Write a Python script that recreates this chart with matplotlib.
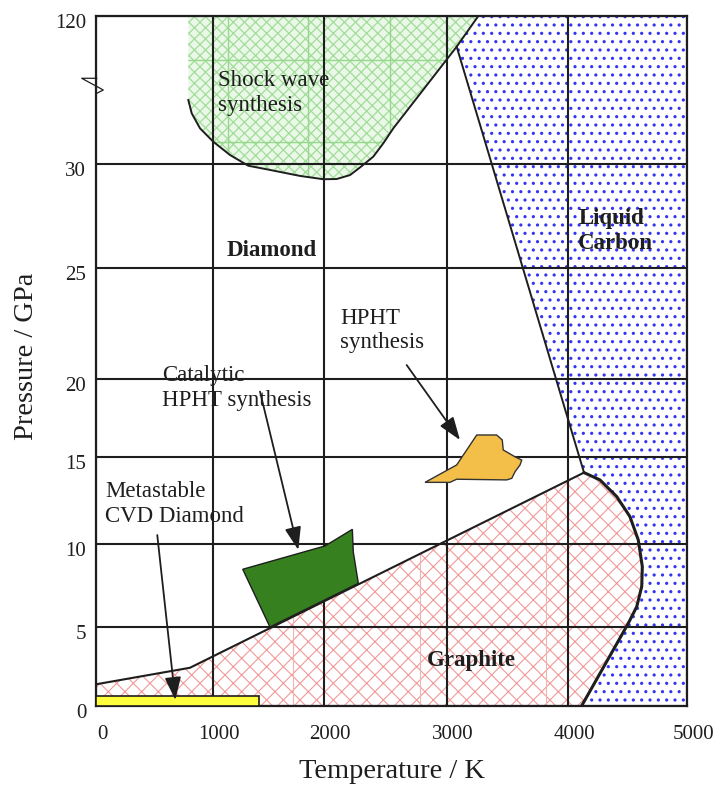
import numpy as np
import matplotlib
matplotlib.use("Agg")
import matplotlib.pyplot as plt
from matplotlib.transforms import ScaledTranslation

plt.rcParams['font.family'] = ['Liberation Serif', 'DejaVu Serif']

# ---- axes: tick values and their (hand-drawn, uneven) spacing ----
t_ticks = [0, 1000, 2000, 3000, 4000, 5000]
t_labels = ["0", "1000", "2000", "3000", "4000", "5000"]
p_ticks = [0, 5, 10, 15, 20, 25, 30, 120]
p_labels = ["0", "5", "10", "15", "20", "25", "30", "120"]
t_spacing = np.array([0, 116.7, 228.3, 350.7, 472.3, 591.3]) / 591.3
p_spacing = np.array([0, 78.7, 161.4, 248.4, 326.4, 437.7, 541.4, 689.7]) / 689.7

# ---- phase boundaries (T in K, P in GPa) ----
# graphite / diamond line
gd_T = [0, 805, 4132]
gd_P = [1.36, 2.41, 14.12]
# graphite / liquid curve, from the triple point down to zero pressure
gl_T = [4132, 4266, 4407, 4518, 4588, 4622, 4617, 4575, 4504, 4113]
gl_P = [14.12, 13.70, 12.74, 11.59, 10.25, 8.65, 7.44, 6.23, 5.22, 0.0]
# diamond / liquid line (top edge down to the triple point)
dl_T = [3260, 3082, 4132]
dl_P = [120, 101.4, 14.12]

# shock wave synthesis region
sw_T = [791, 791, 820, 891, 1005, 1155, 1319, 1484, 1782, 1991, 2101, 2210,
        2292, 2400, 2482, 2564, 3082, 3260]
sw_P = [120, 69.0, 60.95, 51.85, 43.72, 35.64, 29.93, 29.76, 29.44, 29.28,
        29.29, 29.48, 29.85, 34.61, 42.74, 51.85, 101.37, 120]

# HPHT synthesis window
hpht_T = [2823, 3082, 3247, 3411, 3457, 3465, 3562, 3617, 3603, 3562, 3535,
          3493, 3082, 3027]
hpht_P = [13.56, 14.56, 16.43, 16.43, 16.11, 15.47, 15.03, 14.84, 14.56,
          14.17, 13.79, 13.70, 13.74, 13.56]

# catalytic HPHT synthesis window
cat_T = [1269, 2006, 2229, 2237, 2278, 1513]
cat_P = [8.49, 9.90, 10.86, 9.53, 7.64, 5.0]

# metastable CVD diamond window
cvd_T = [0, 1418]
cvd_P = [0, 0.62]

T_MAX, P_MAX = 5000, 120

fig = plt.figure(figsize=(7.21, 7.87), dpi=100)
ax = fig.add_axes([96 / 721, 81.3 / 787, 591.3 / 721, 689.7 / 787])

ax.set_xscale('function', functions=(lambda v: np.interp(v, t_ticks, t_spacing),
                                     lambda u: np.interp(u, t_spacing, t_ticks)))
ax.set_yscale('function', functions=(lambda v: np.interp(v, p_ticks, p_spacing),
                                     lambda u: np.interp(u, p_spacing, p_ticks)))
ax.set_xlim(0, T_MAX)
ax.set_ylim(0, P_MAX)

ink = '#1e1e1e'

# ---- phase areas ----
graphite_T = gd_T + gl_T[1:] + [0]
graphite_P = gd_P + gl_P[1:] + [0]
g_poly = ax.fill(graphite_T, graphite_P, facecolor='white', edgecolor='#f29a9a',
                 hatch='xx', linewidth=0, zorder=1)[0]

liquid_T = dl_T + gl_T[1:] + [T_MAX, T_MAX]
liquid_P = dl_P + gl_P[1:] + [0, P_MAX]
l_poly = ax.fill(liquid_T, liquid_P, facecolor='white', edgecolor='#3434f2',
                 hatch='..', linewidth=0, zorder=1)[0]

s_poly = ax.fill(sw_T, sw_P, facecolor='#eaf8e7', edgecolor='#a3dc9b',
                 hatch='xxx', linewidth=0, zorder=1)[0]

for poly, hlw in ((g_poly, 0.8), (l_poly, 1.1), (s_poly, 0.9)):
    if hasattr(poly, 'set_hatch_linewidth'):
        poly.set_hatch_linewidth(hlw)

# faint guide lines inside the shaded areas
for t in (1139, 1857, 2537):
    ln, = ax.plot([t, t], [0, P_MAX], color='#94d88a', lw=1.0, zorder=1.2)
    ln.set_clip_path(s_poly)
for p in (93.3, 43.7):
    ln, = ax.plot([0, T_MAX], [p, p], color='#94d88a', lw=1.0, zorder=1.2)
    ln.set_clip_path(s_poly)
for t in (1722, 2782, 3820):
    ln, = ax.plot([t, t], [0, P_MAX], color='#f3b3b3', lw=0.8, zorder=1.2)
    ln.set_clip_path(g_poly)

# ---- grid ----
ax.set_xticks(t_ticks, t_labels)
ax.set_yticks(p_ticks, p_labels)
ax.set_axisbelow('line')
ax.grid(True, color=ink, lw=1.5)
for s in ax.spines.values():
    s.set_color(ink)
    s.set_linewidth(1.6)

# ---- boundary lines ----
ax.plot(gd_T, gd_P, color=ink, lw=1.5, zorder=2)
ax.plot(gl_T, gl_P, color=ink, lw=2.2, zorder=2, solid_joinstyle='round')
ax.plot(dl_T[1:], dl_P[1:], color=ink, lw=1.4, zorder=2)
ax.plot(sw_T[1:], sw_P[1:], color=ink, lw=1.4, zorder=2, solid_joinstyle='round')

# ---- synthesis windows ----
ax.fill(hpht_T, hpht_P, facecolor='#f3bf48', edgecolor='#333333', lw=1.0, zorder=3)
ax.fill(cat_T, cat_P, facecolor='#37801f', edgecolor=ink, lw=1.0, zorder=3)
ax.fill([cvd_T[0], cvd_T[1], cvd_T[1], cvd_T[0]],
        [cvd_P[0], cvd_P[0], cvd_P[1], cvd_P[1]],
        facecolor='#ffff3c', edgecolor=ink, lw=1.2, zorder=3)

# ---- labels and arrows ----
txt = dict(color=ink, fontsize=16.5, zorder=5)
ax.text(1050, 73.3, "Shock wave\nsynthesis", ha='left', va='center',
        linespacing=1.2, **txt)
ax.text(1531, 25.82, "Diamond", ha='center', va='center', fontweight='bold', **txt)
ax.text(4084, 26.78, "Liquid\nCarbon", ha='left', va='center', fontweight='bold',
        linespacing=1.2, **txt)
ax.text(2128, 22.21, "HPHT\nsynthesis", ha='left', va='center', linespacing=1.2, **txt)
ax.text(566, 19.44, "Catalytic\nHPHT synthesis", ha='left', va='center',
        linespacing=1.2, **txt)
ax.text(77, 12.32, "Metastable\nCVD Diamond", ha='left', va='center',
        linespacing=1.2, **txt)
ax.text(3206, 2.90, "Graphite", ha='center', va='center', fontweight='bold', **txt)

arrow = dict(arrowstyle='-|>,head_length=0.7,head_width=0.25', mutation_scale=20,
             lw=1.3, color=ink, shrinkA=0, shrinkB=0)
ax.annotate('', xy=(3109, 16.11), xytext=(2673, 20.64), arrowprops=arrow, zorder=4)
ax.annotate('', xy=(1767, 9.66), xytext=(1424, 19.21), arrowprops=arrow, zorder=4)
ax.annotate('', xy=(680, 0.36), xytext=(525, 10.53), arrowprops=arrow, zorder=4)

# axis break marker on the pressure axis
ax.plot([0.0012, -0.0242, 0.0123, 0.0012], [0.9097, 0.9097, 0.8927, 0.8879],
        transform=ax.transAxes, color=ink, lw=0.9, clip_on=False, zorder=6)

# ---- ticks and axis titles ----
ax.tick_params(length=0, labelsize=15, colors=ink)
ax.tick_params(axis='x', pad=14)
ax.tick_params(axis='y', pad=7)
dx = ScaledTranslation(6 / 100, 0, fig.dpi_scale_trans)
dy = ScaledTranslation(0, -5 / 100, fig.dpi_scale_trans)
for lab in ax.get_xticklabels():
    lab.set_transform(lab.get_transform() + dx)
for lab in ax.get_yticklabels():
    lab.set_transform(lab.get_transform() + dy)

ax.set_xlabel("Temperature / K", fontsize=20.5, color=ink)
ax.set_ylabel("Pressure / GPa", fontsize=20.5, color=ink)
ax.xaxis.label.set_va('center')
ax.yaxis.label.set_va('center')
ax.xaxis.set_label_coords(0.5, -0.0961)
ax.yaxis.set_label_coords(-0.1175, 0.507)

fig.savefig("out.png", dpi=100)
